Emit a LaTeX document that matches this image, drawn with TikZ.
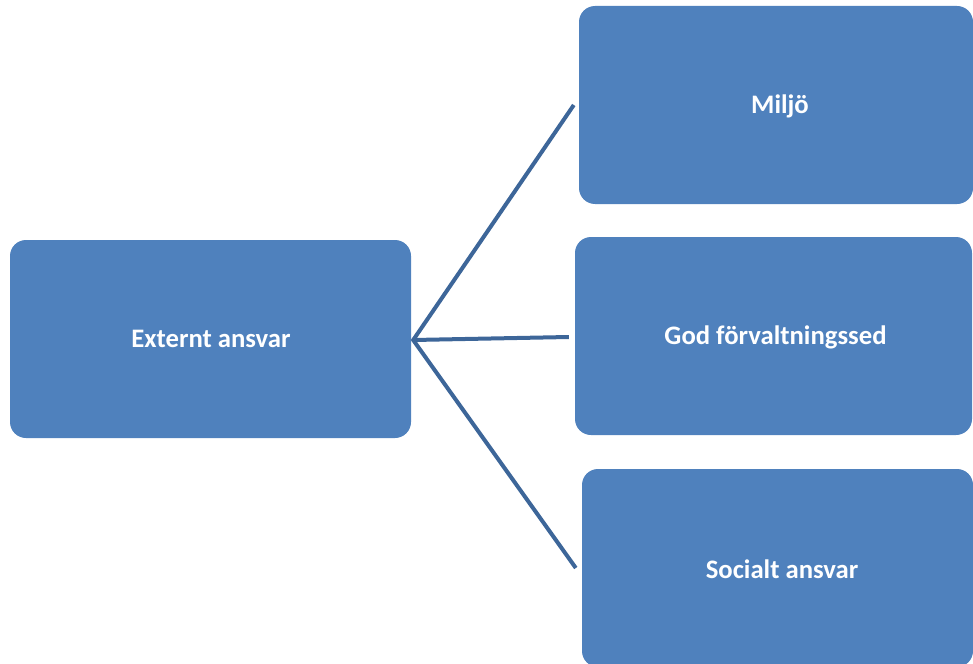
\documentclass[tikz,border=0pt]{standalone}
\usepackage{fontspec}
\setmainfont{Carlito}
\definecolor{boxfill}{HTML}{4F81BD}
\definecolor{linecol}{HTML}{3D6699}
\begin{document}
\begin{tikzpicture}[x=1pt,y=-1pt,
  box/.style={fill=boxfill, draw=none, rounded corners=16pt, inner sep=0pt},
  lbl/.style={text=white, font=\fontsize{26.7}{30}\selectfont\bfseries, inner sep=0pt},
  conn/.style={draw=linecol, line width=4pt}]
\useasboundingbox (0,0) rectangle (973,663);
\clip (0,0) rectangle (973,663);
% boxes
\node[box, minimum width=401pt, minimum height=198pt] (ext) at (210.5,339) {};
\node[box, minimum width=394pt, minimum height=198pt] (mil) at (776,105) {};
\node[box, minimum width=397pt, minimum height=198pt] (god) at (773.5,336) {};
\node[box, minimum width=391pt, minimum height=198pt] (soc) at (777.5,568) {};
% labels
\node[lbl] (extL) at (211,339) {Externt ansvar};
\node[lbl] (milL) at (780,106) {Miljö};
\node[lbl] (godL) at (775.5,337) {God förvaltningssed};
\node[lbl] (socL) at (782,569) {Socialt ansvar};
% connectors
\coordinate (hub) at ([xshift=2pt,yshift=-1pt]ext.east);
\coordinate (e1) at ([xshift=-5pt]mil.west |- 0,105);
\coordinate (e2) at ([xshift=-6pt]god.west |- 0,337);
\coordinate (e3) at ([xshift=-6pt]soc.west |- 0,568);
\draw[conn] (e1) -- (hub) -- (e3);
\draw[conn] (hub) -- (e2);
\end{tikzpicture}
\end{document}
